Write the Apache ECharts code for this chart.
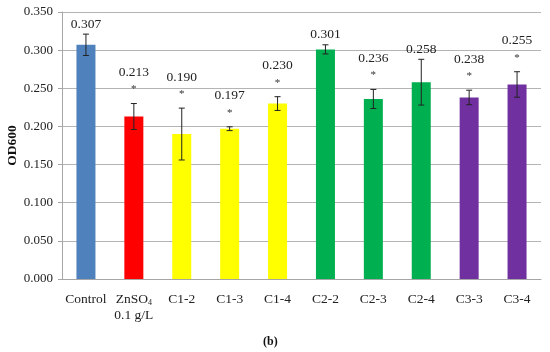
<!DOCTYPE html>
<html><head><meta charset="utf-8">
<script src="https://cdn.jsdelivr.net/npm/echarts@6/dist/echarts.min.js"></script>
<style>html,body{margin:0;padding:0;background:#fff}#c{width:550px;height:352px}</style>
</head><body><div id="c"></div>
<script>
const categories = ['Control', 'ZnSO4', 'C1-2', 'C1-3', 'C1-4', 'C2-2', 'C2-3', 'C2-4', 'C3-3', 'C3-4'];
const values = [0.307, 0.213, 0.190, 0.197, 0.230, 0.301, 0.236, 0.258, 0.238, 0.255];
const errors = [0.014, 0.017, 0.034, 0.0025, 0.009, 0.006, 0.0125, 0.030, 0.0095, 0.0167];
const significant = [false, true, true, true, true, false, true, false, true, true];
const barColors = ['#4F81BD', '#FF0000', '#FFFF00', '#FFFF00', '#FFFF00', '#00B050', '#00B050', '#00B050', '#7030A0', '#7030A0'];
const yTicks = [0, 0.05, 0.1, 0.15, 0.2, 0.25, 0.3, 0.35];

const FONT = '"Liberation Serif", "DejaVu Serif", serif';
const chart = echarts.init(document.getElementById('c'));
chart.setOption({
  animation: false,
  grid: { left: 62, right: 9, top: 12, bottom: 73, containLabel: false, outerBoundsMode: 'none' },
  xAxis: {
    type: 'category', data: categories,
    axisLine: { lineStyle: { color: '#A6A6A6' } },
    axisTick: { alignWithLabel: true, length: 4, lineStyle: { color: '#A6A6A6' } },
    axisLabel: {
      interval: 0,
      margin: 12, color: '#222', fontFamily: FONT, fontSize: 13.5, lineHeight: 16,
      formatter: v => v === 'ZnSO4' ? '{t|ZnSO}{s|4}\n{t|0.1 g/L}' : '{t|' + v + '}',
      rich: {
        t: { fontFamily: FONT, fontSize: 13.5, color: '#222', lineHeight: 16 },
        s: { fontFamily: FONT, fontSize: 8, color: '#222', verticalAlign: 'bottom', padding: [6, 0, 0, 0], lineHeight: 16 }
      }
    }
  },
  yAxis: {
    type: 'value', min: yTicks[0], max: yTicks[yTicks.length - 1], interval: 0.05,
    name: 'OD600', nameLocation: 'middle', nameGap: 42, nameMoveOverlap: false,
    nameTextStyle: { fontFamily: FONT, fontSize: 13.5, fontWeight: 'bold', color: '#111' },
    axisLine: { show: true, lineStyle: { color: '#A6A6A6' } },
    axisTick: { show: true, length: 4, lineStyle: { color: '#A6A6A6' } },
    splitLine: { lineStyle: { color: '#B4B4B4' } },
    axisLabel: { margin: 9, color: '#222', fontFamily: FONT, fontSize: 13, formatter: v => v.toFixed(3) }
  },
  series: [
    {
      type: 'bar', barWidth: 19,
      data: values.map((v, i) => ({ value: v, itemStyle: { color: barColors[i] } }))
    },
    {
      type: 'custom',
      data: values.map((v, i) => [i, v, errors[i], significant[i] ? 1 : 0]),
      renderItem: function (params, api) {
        const i = api.value(0), v = api.value(1), e = api.value(2), sig = api.value(3);
        const top = api.coord([i, v + e]);
        const bot = api.coord([i, v - e]);
        const x = top[0], hw = 3;
        const st = { stroke: '#222', lineWidth: 1 };
        const children = [
          { type: 'line', shape: { x1: x, y1: top[1], x2: x, y2: bot[1] }, style: st },
          { type: 'line', shape: { x1: x - hw, y1: top[1], x2: x + hw, y2: top[1] }, style: st },
          { type: 'line', shape: { x1: x - hw, y1: bot[1], x2: x + hw, y2: bot[1] }, style: st }
        ];
        let ly;
        if (sig) {
          children.push({ type: 'text', style: { text: '*', x: x, y: top[1] - 14, textAlign: 'center', textVerticalAlign: 'middle', font: '11px ' + FONT, fill: '#333' } });
          ly = top[1] - 31;
        } else {
          ly = top[1] - 10;
        }
        children.push({ type: 'text', style: { text: v.toFixed(3), x: x, y: ly, textAlign: 'center', textVerticalAlign: 'middle', font: '13.5px ' + FONT, fill: '#222' } });
        return { type: 'group', children: children };
      },
      z: 10
    }
  ],
  graphic: [{
    type: 'text', left: 263, top: 336,
    style: { text: '(b)', font: 'bold 12px ' + FONT, fill: '#111' }
  }]
});
</script></body></html>
